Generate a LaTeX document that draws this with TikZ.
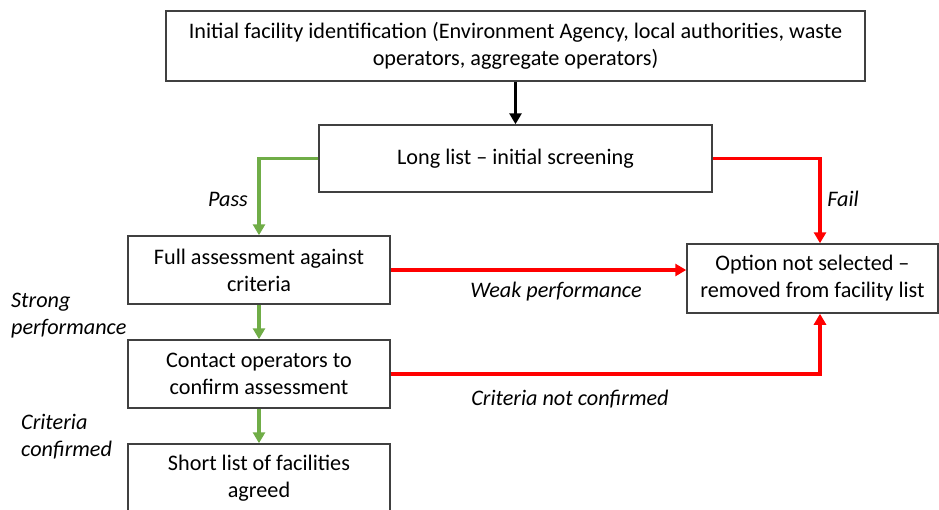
\documentclass[tikz,border=0pt]{standalone}
\usepackage{fontspec}
\setmainfont{Carlito}
\usetikzlibrary{arrows.meta}
\definecolor{flowgreen}{HTML}{70AD47}
\definecolor{flowred}{HTML}{FF0000}
\definecolor{boxline}{HTML}{404040}
\begin{document}
\begin{tikzpicture}[x=1pt,y=-1pt,
  box/.style={draw=boxline, line width=1.5pt, fill=white, inner sep=0pt, align=center,
    font=\fontsize{22.2}{27}\selectfont},
  flow/.style={line width=3.4pt, -{Triangle[length=11pt,width=12pt]}},
  lbl/.style={font=\fontsize{22.2}{27}\selectfont\itshape, align=left, inner sep=0pt}]
\useasboundingbox (0,0) rectangle (939,509);
\fill[white] (0,0) rectangle (939,509);

\node[box, minimum width=699pt, minimum height=70pt] (init) at (515.5,46)
  {Initial facility identification (Environment Agency, local authorities, waste\\operators, aggregate operators)};
\node[box, minimum width=393pt, minimum height=67pt] (long) at (515.5,158.5)
  {Long list -- initial screening};
\node[box, minimum width=262pt, minimum height=68pt] (full) at (259,270)
  {Full assessment against\\criteria};
\node[box, minimum width=251pt, minimum height=69pt] (opt) at (812.5,278.5)
  {Option not selected --\\removed from facility list};
\node[box, minimum width=262pt, minimum height=68pt] (contact) at (259,374)
  {Contact operators to\\confirm assessment};
\node[box, minimum width=262pt, minimum height=68pt] (short) at (259,478)
  {Short list of facilities\\agreed};

\coordinate (optN) at ([xshift=7.5pt]opt.north);
\coordinate (optS) at ([xshift=7.5pt]opt.south);

\draw[flow, black] (init.south) -- (long.north);
\draw[flow, flowgreen] (long.west) -| (full.north);
\draw[flow, flowred] (long.east) -| (optN);
\draw[flow, flowred] (full.east) -- (full.east -| opt.west);
\draw[flow, flowgreen] (full.south) -- (contact.north);
\draw[flow, flowred] (contact.east) -| (optS);
\draw[flow, flowgreen] (contact.south) -- (short.north);

\node[lbl] (pass) at (228,199) {Pass};
\node[lbl] (fail) at (843,199) {Fail};
\node[lbl] (weak) at (556,292) {Weak performance};
\node[lbl] (notconf) at (570,399) {Criteria not confirmed};
\node[lbl, anchor=west] (strong) at (11,316) {Strong\\performance};
\node[lbl, anchor=west] (conf) at (21,437) {Criteria\\confirmed};
\end{tikzpicture}
\end{document}
